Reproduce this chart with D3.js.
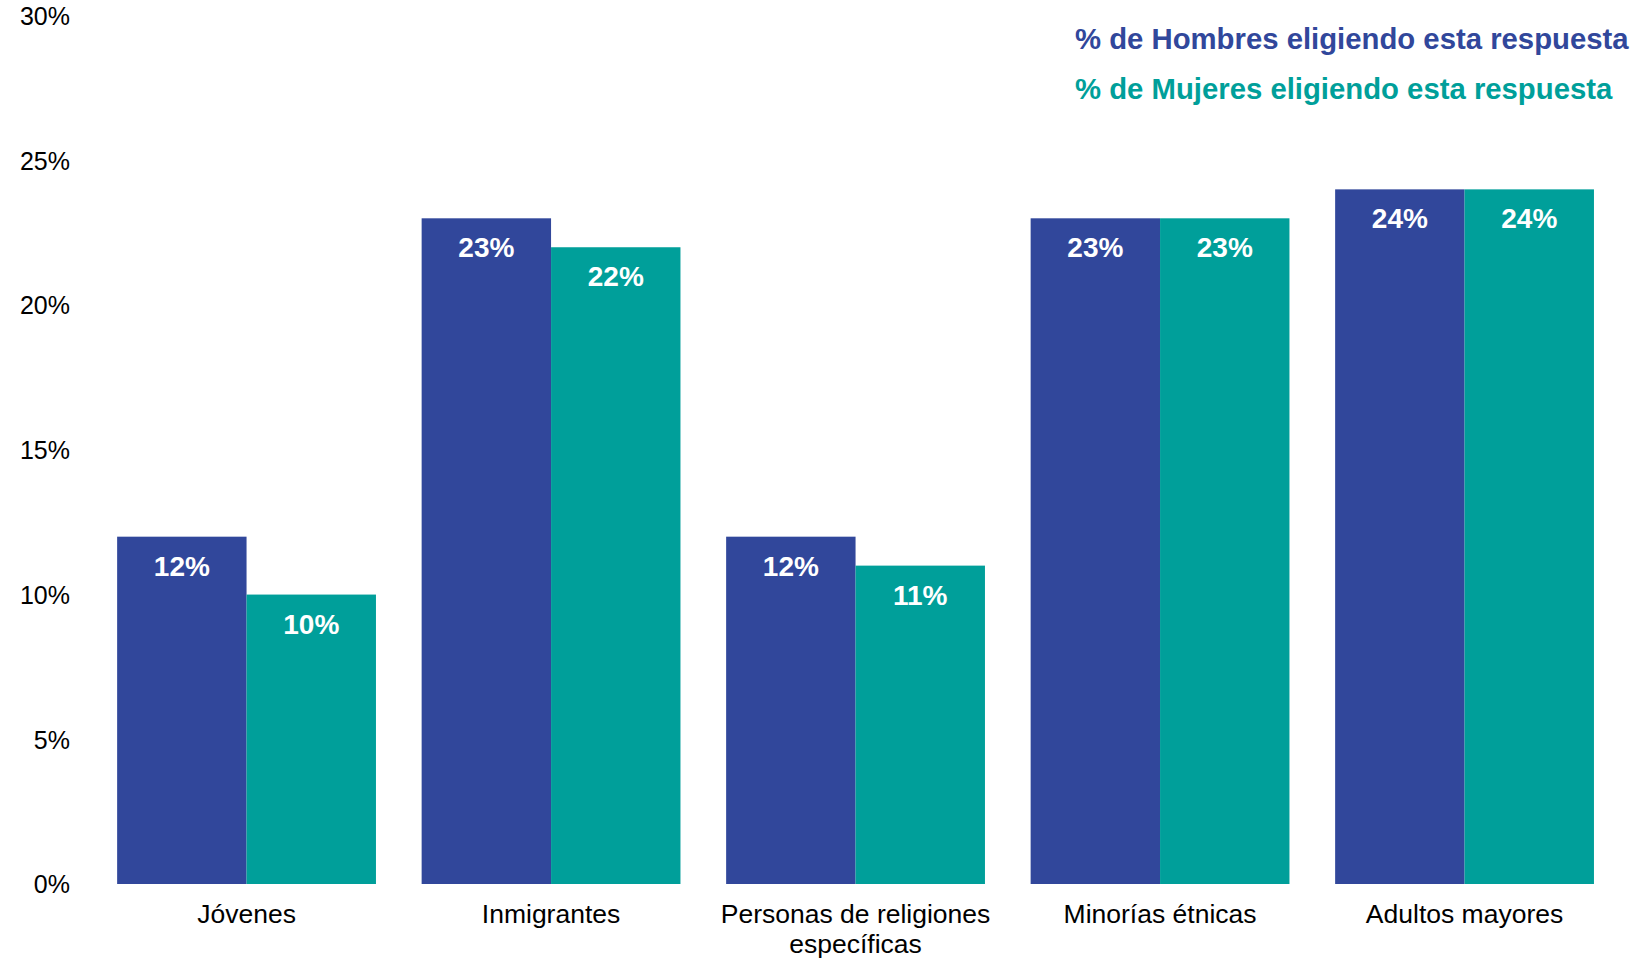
<!DOCTYPE html>
<html><head><meta charset="utf-8">
<script src="https://cdn.jsdelivr.net/npm/d3@7"></script>
<style>body{margin:0;background:#fff}svg{display:block}text{font-family:"Liberation Sans",Arial,sans-serif}</style>
</head><body>
<svg id="chart" width="1652" height="959"></svg>
<script>
const categories = ["Jóvenes", "Inmigrantes", "Personas de religiones específicas", "Minorías étnicas", "Adultos mayores"];
const categoryLines = [["Jóvenes"], ["Inmigrantes"], ["Personas de religiones", "específicas"], ["Minorías étnicas"], ["Adultos mayores"]];
const seriesNames = ["% de Hombres eligiendo esta respuesta", "% de Mujeres eligiendo esta respuesta"];
const hombres = [12, 23, 12, 23, 24];
const mujeres = [10, 22, 11, 23, 24];
const yTicks = [0, 5, 10, 15, 20, 25, 30];
const colors = ["#31479B", "#009F9A"];

const svg = d3.select("#chart");
const x0 = d3.scaleBand().domain(categories).range([94.3, 1616.8]).paddingInner(0.15).paddingOuter(0.075);
const x1 = d3.scaleBand().domain([0, 1]).range([0, x0.bandwidth()]);
const y = d3.scaleLinear().domain([0, 30]).range([884, 15.7]);

// y axis
const yAxis = d3.axisLeft(y).tickValues(yTicks).tickFormat(d => d + "%").tickSize(0).tickPadding(0);
const ya = svg.append("g").attr("transform", "translate(70,0)").call(yAxis);
ya.select(".domain").remove();
ya.selectAll("text").attr("font-size", 25).attr("fill", "#000").style("font-family", '"Liberation Sans",Arial,sans-serif').attr("dy", "0.35em");

const data = categories.map((c, i) => ({c, vals: [hombres[i], mujeres[i]]}));
const g = svg.append("g").selectAll("g").data(data).join("g").attr("transform", d => `translate(${x0(d.c)},0)`);
g.selectAll("rect").data(d => d.vals.map((v, k) => ({v, k}))).join("rect")
  .attr("x", d => x1(d.k)).attr("width", x1.bandwidth())
  .attr("y", d => y(d.v)).attr("height", d => y(0) - y(d.v))
  .attr("fill", d => colors[d.k]);
g.selectAll("text.val").data(d => d.vals.map((v, k) => ({v, k}))).join("text").attr("class", "val")
  .attr("x", d => x1(d.k) + x1.bandwidth() / 2).attr("y", d => y(d.v) + 39)
  .attr("text-anchor", "middle").attr("font-size", 28).attr("font-weight", "bold").attr("fill", "#fff")
  .text(d => d.v + "%");

// x axis labels
const xa = svg.append("g");
categories.forEach((c, i) => {
  const t = xa.append("text").attr("x", x0(c) + x0.bandwidth() / 2).attr("y", 923)
    .attr("text-anchor", "middle").attr("font-size", 26.5).attr("fill", "#000");
  categoryLines[i].forEach((line, j) => {
    t.append("tspan").attr("x", x0(c) + x0.bandwidth() / 2).attr("dy", j === 0 ? 0 : 30).text(line);
  });
});

// legend
const leg = svg.append("g");
seriesNames.forEach((s, i) => {
  leg.append("text").attr("x", 1075).attr("y", 49 + i * 50).attr("font-size", 29.3).attr("font-weight", "bold")
    .attr("fill", colors[i]).text(s);
});
</script>
</body></html>
